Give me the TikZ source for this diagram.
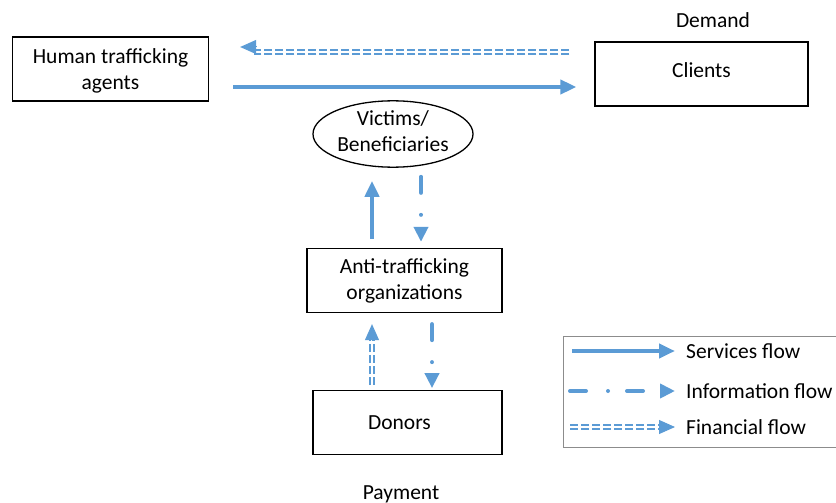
\documentclass[tikz,border=0pt]{standalone}
\usepackage{fontspec}
\setmainfont{Carlito}
\usetikzlibrary{arrows.meta}
\usetikzlibrary{positioning}
\usetikzlibrary{shapes.geometric}
\definecolor{flowblue}{HTML}{5B9BD5}
\tikzset{
    block/.style={
           rectangle,
           draw=black, line width=1.3pt,
           minimum height=64pt,
           inner sep=2pt,
           align=center,
           font=\fontsize{21.5}{26}\selectfont,
           },
    oval/.style={
           ellipse,
           draw=black, line width=1.3pt,
           minimum width=160pt,
           minimum height=64pt,
           inner sep=0pt,
           align=center,
           font=\fontsize{21.5}{26}\selectfont,
           },
    frameless/.style={
           %draw=black, very thick,
           inner sep=2pt,
           align=center,
           font=\fontsize{21.5}{26}\selectfont,
           },
    svcflow/.style={
           draw=flowblue, line width=4pt,
           -{Triangle[length=16pt,width=14pt]},
           },
    infoflow/.style={
           draw=flowblue, line width=4pt, line cap=round,
           dash pattern=on 16pt off 22pt on 0pt off 19pt,
           -{Triangle[length=15pt,width=14pt]},
           },
    finflow/.style={
           draw=flowblue, line width=1.8pt,
           double=white, double distance=2pt,
           dash pattern=on 8pt off 3pt,
           },
    fintip/.style={
           draw=flowblue, line width=1pt,
           -{Triangle[length=16pt,width=14pt]},
           },
}

\begin{document}
\begin{tikzpicture}[x=1pt, y=-1pt, auto, node distance=79pt and 1cm]
	\useasboundingbox (0,0) rectangle (836,503);

	\node[block, minimum width=196pt, text depth=0pt] (agents) at (110.5,69) {Human trafficking\\agents};
	\node[block, minimum width=213pt, text depth=7pt] (clients) at (701.5,74) {Clients};
	\node[frameless] (demand) at (713,20) {Demand};

	\node[oval, text depth=6pt] (victims) at (393,134) {Victims/\\Beneficiaries};
	\node[block, minimum width=195pt, below=80pt of victims, xshift=11.5pt] (anti) {Anti-trafficking\\organizations};
	\node[block, minimum width=189pt, below=77pt of anti, xshift=3pt] (donors) {Donors\hspace*{16pt}};
	\node[frameless] (payment) at (401,494) {Payment};

	% flows between agents and clients
	\draw[finflow, shorten <=25pt, shorten >=45pt] ([yshift=22pt]clients.west) -- ([yshift=22pt]clients.west -| agents.east);
	\draw[fintip] ([xshift=47pt,yshift=22pt]agents.east) -- ([xshift=31pt,yshift=22pt]agents.east);
	\draw[svcflow, shorten <=24pt, shorten >=18pt] ([yshift=-18pt]agents.east) -- ([yshift=-18pt]agents.east -| clients.west);

	% flows in the middle column
	\draw[svcflow, shorten <=9pt, shorten >=13pt] ([xshift=-32.5pt]anti.north) -- ([xshift=-32.5pt]anti.north |- victims.south);
	\draw[infoflow, shorten <=9pt, shorten >=6pt] ([xshift=28pt]victims.south) -- ([xshift=28pt]victims.south |- anti.north);
	\draw[finflow, shorten <=5pt, shorten >=26pt] ([xshift=-35.5pt]donors.north) -- ([xshift=-35.5pt]donors.north |- anti.south);
	\draw[fintip] ([xshift=-32.5pt,yshift=-27pt]anti.south) -- ([xshift=-32.5pt,yshift=-11pt]anti.south);
	\draw[infoflow, shorten <=11pt, shorten >=2pt] ([xshift=27.5pt]anti.south) -- ([xshift=27.5pt]anti.south |- donors.north);

	% legend
	\draw[black!45, line width=0.8pt] (563,336) rectangle (840,447);
	\node[frameless, anchor=west, inner sep=0pt] (lsvc) at (686,351) {Services flow};
	\node[frameless, anchor=west, inner sep=0pt] (linfo) at (686,391) {Information flow};
	\node[frameless, anchor=west, inner sep=0pt] (lfin) at (686,427) {Financial flow};
	\draw[svcflow, shorten >=11pt] ([xshift=-114pt]lsvc.west) -- (lsvc.west);
	\draw[infoflow, shorten >=11pt] ([xshift=-116pt]linfo.west) -- (linfo.west);
	\draw[finflow, shorten >=26pt] ([xshift=-116pt]lfin.west) -- (lfin.west);
	\draw[fintip] ([xshift=-27pt]lfin.west) -- ([xshift=-11pt]lfin.west);

\end{tikzpicture}
\end{document}
